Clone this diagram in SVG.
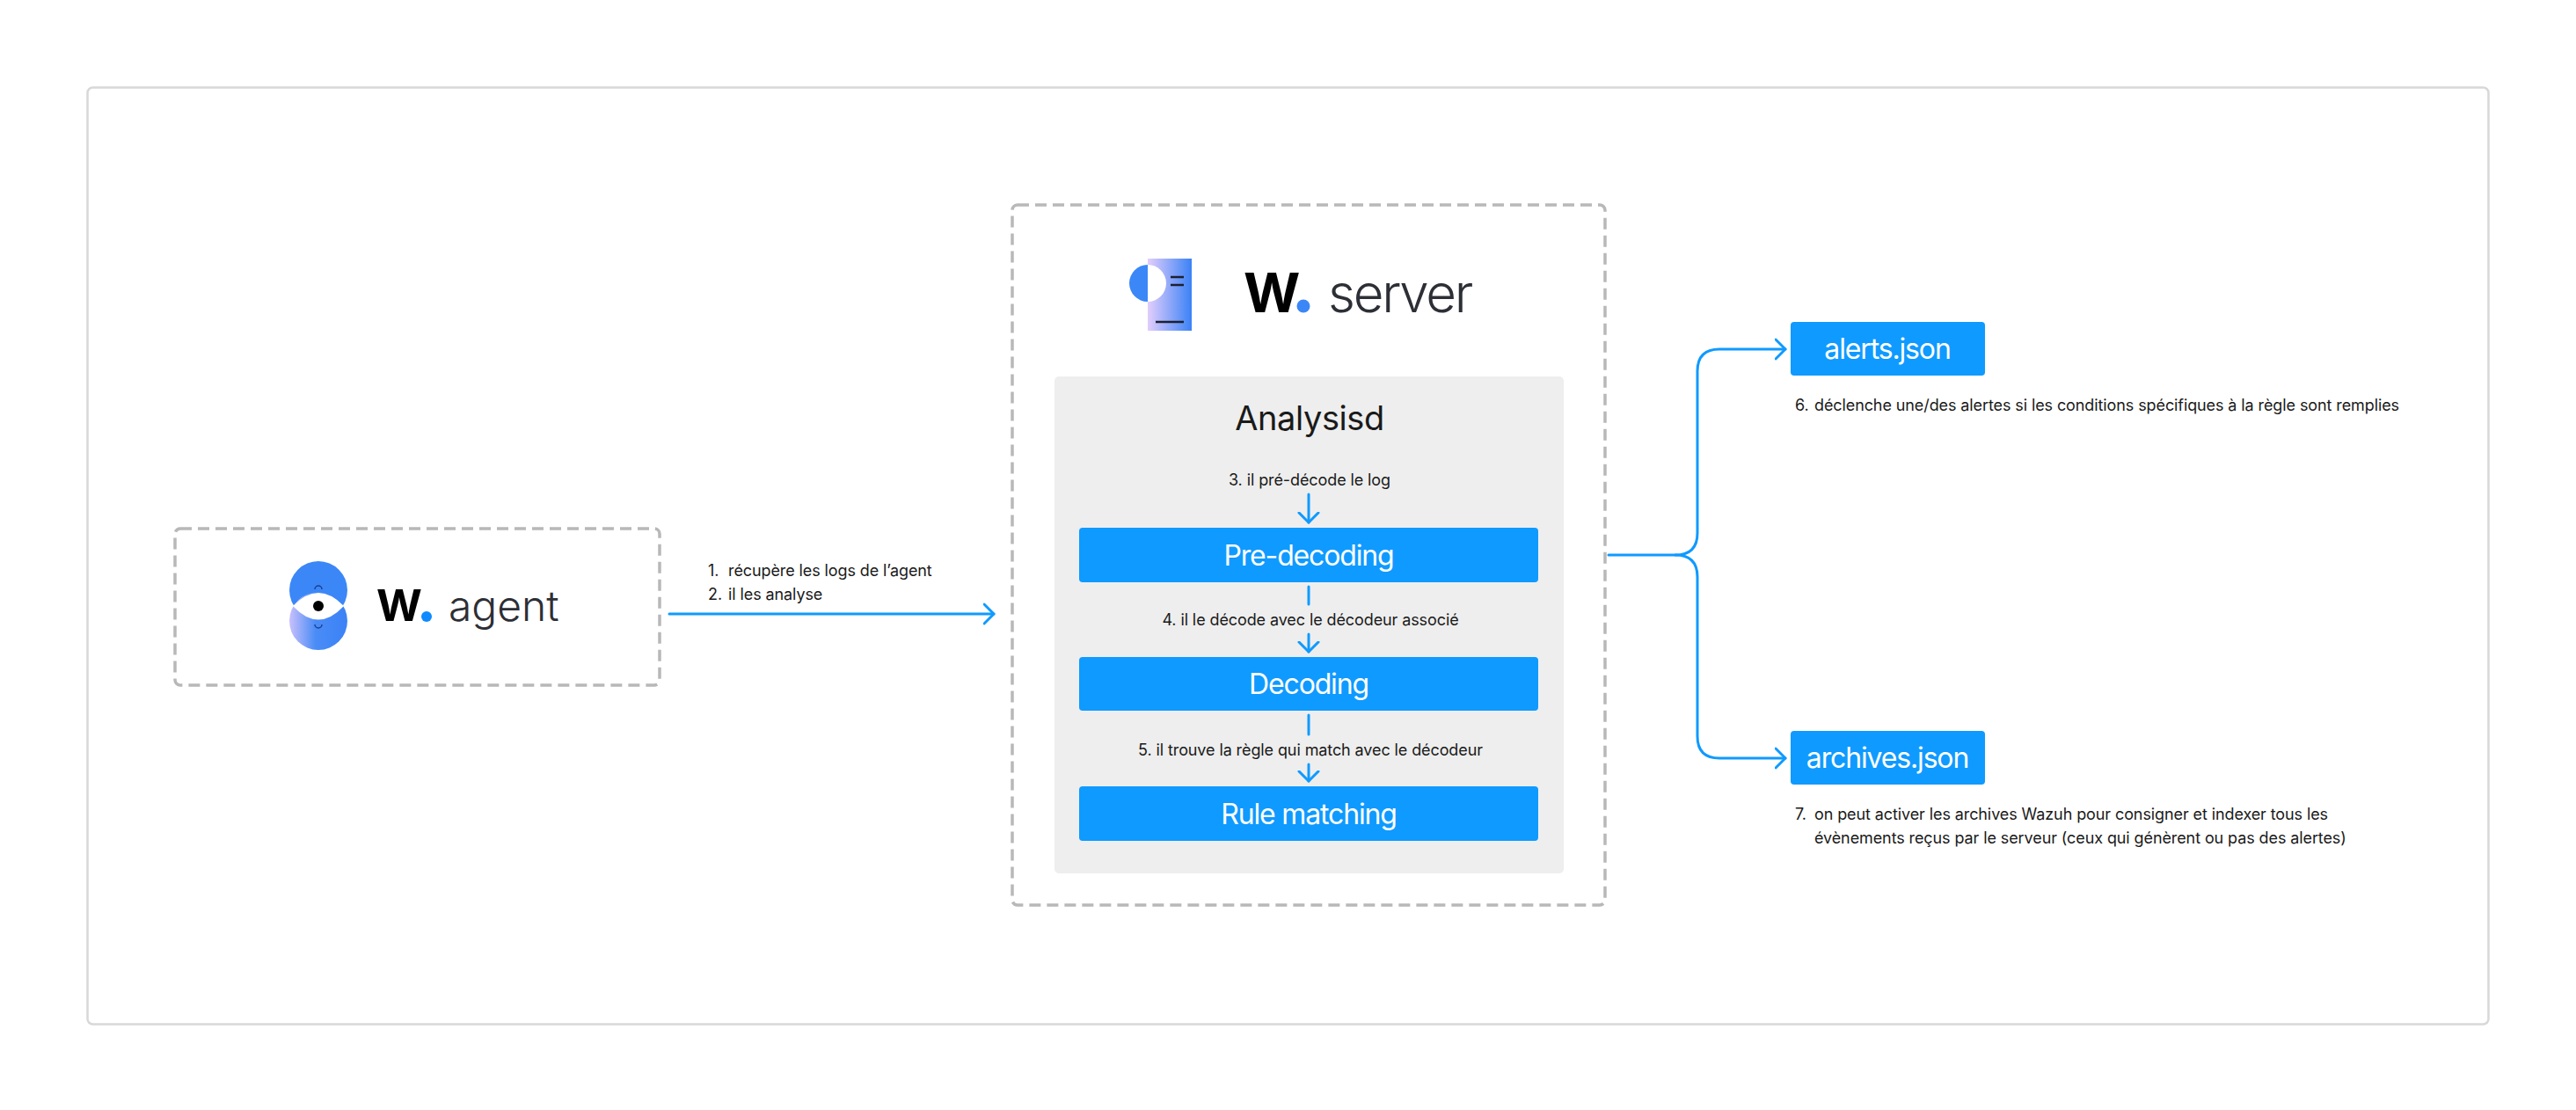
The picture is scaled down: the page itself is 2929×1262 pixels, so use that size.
<svg xmlns="http://www.w3.org/2000/svg" width="2929" height="1262" viewBox="0 0 2929 1262">
<style>
text{font-family:Inter,"Liberation Sans",sans-serif}
.dash{fill:none;stroke:#b8b8b8;stroke-width:3.5;stroke-dasharray:13 7}
.box{fill:#0f9aff}
.bt{fill:#fff;font-size:32px;text-anchor:middle;letter-spacing:-1.15px}
.lb{fill:#1a1a1a;font-size:18px;letter-spacing:-.1px}
.c{text-anchor:middle}
.con{fill:none;stroke:#0f9aff;stroke-width:3;stroke-linecap:round;stroke-linejoin:round}
.w{font-weight:700;fill:#000}
.l{font-weight:300;fill:#2d2f36}
.ink{stroke:#1c2130;stroke-width:2.5}
</style>
<defs>
<linearGradient id="g1" x1="0" x2="1" y1="0" y2="0"><stop offset="0" stop-color="#e2cefc"/><stop offset="1" stop-color="#3b82f6"/></linearGradient>
<linearGradient id="g2" x1="0" x2="1" y1="0" y2="0"><stop offset="0" stop-color="#c9c0fb"/><stop offset=".45" stop-color="#4a8cf7"/><stop offset="1" stop-color="#3b82f6"/></linearGradient>
<marker id="ah" markerUnits="userSpaceOnUse" markerWidth="24" markerHeight="28" refX="12" refY="13" orient="auto"><path d="M1 2 12 13 1 24" fill="none" stroke="#0f9aff" stroke-width="3" stroke-linecap="round" stroke-linejoin="round"/></marker>
</defs>
<rect width="2929" height="1262" fill="#fff"/>
<rect id="frame" x="99.500" y="99.500" width="2730" height="1065" rx="6" fill="#fff" stroke="#d8d8d8" stroke-width="2.500"/>
<g id="agent">
<rect class="dash" x="199" y="601" width="551" height="178" rx="6"/>
<circle cx="362" cy="671" r="33" fill="#3b87f7"/>
<circle cx="362" cy="706" r="33" fill="url(#g2)"/>
<path d="M333 689Q362 659 391 689Q362 720 333 689Z" fill="#fff"/>
<circle cx="362" cy="689" r="6" fill="#000"/>
<path d="M358 670a4 4 0 0 1 8 0M358 710a4 4 0 0 0 8 0" fill="none" stroke="#1c3f8f" stroke-width="1.500"/>
<text class="w" x="428" y="706" font-size="50">W</text>
<circle cx="485" cy="701" r="6" fill="#0f8aff"/>
<text class="l" x="510" y="706" font-size="48">agent</text>
</g>
<g id="server">
<rect class="dash" x="1151" y="233" width="674" height="796" rx="6"/>
<rect x="1305" y="294" width="50" height="82" fill="url(#g1)"/>
<path d="M1305 301a21 21 0 0 0 0 42Z" fill="#3b87f7"/>
<path d="M1305 301a21 21 0 0 1 0 42Z" fill="#fff"/>
<path class="ink" d="M1331 315h15M1331 324h15M1314 366h32"/>
<text class="w" x="1414" y="355" font-size="62">W</text>
<circle cx="1482" cy="348" r="7.500" fill="#3b87f7"/>
<text class="l" x="1510" y="355" font-size="60" letter-spacing="-2.300">server</text>
</g>
<g id="analysisd">
<rect x="1199" y="428" width="579" height="565" rx="5" fill="#eee"/>
<text x="1489" y="489" font-size="38" class="c" fill="#1a1a1a" letter-spacing="-.4">Analysisd</text>
<text class="lb c" x="1489" y="552">3. il pré-décode le log</text>
<text class="lb c" x="1490" y="711">4. il le décode avec le décodeur associé</text>
<text class="lb c" x="1490" y="859">5. il trouve la règle qui match avec le décodeur</text>
</g>
<g id="predecoding"><rect class="box" x="1227" y="600" width="522" height="62" rx="4"/><text class="bt" x="1488" y="643">Pre-decoding</text></g>
<g id="decoding"><rect class="box" x="1227" y="747" width="522" height="61" rx="4"/><text class="bt" x="1488" y="789">Decoding</text></g>
<g id="rule-matching"><rect class="box" x="1227" y="894" width="522" height="62" rx="4"/><text class="bt" x="1488" y="937">Rule matching</text></g>
<g id="alerts"><rect class="box" x="2036" y="366" width="221" height="61" rx="4"/><text class="bt" x="2146" y="408">alerts.json</text></g>
<g id="archives"><rect class="box" x="2036" y="831" width="221" height="61" rx="4"/><text class="bt" x="2146" y="873">archives.json</text></g>
<g id="labels">
<text class="lb" x="805" y="655">1.</text><text class="lb" x="828" y="655">récupère les logs de l’agent</text>
<text class="lb" x="805" y="682">2.</text><text class="lb" x="828" y="682">il les analyse</text>
<text class="lb" x="2041" y="467">6.</text><text class="lb" x="2063" y="467">déclenche une/des alertes si les conditions spécifiques à la règle sont remplies</text>
<text class="lb" x="2041" y="932">7.</text><text class="lb" x="2063" y="932">on peut activer les archives Wazuh pour consigner et indexer tous les</text>
<text class="lb" x="2063" y="959">évènements reçus par le serveur (ceux qui génèrent ou pas des alertes)</text>
</g>
<g id="connectors">
<path class="con" d="M761 698H1130" marker-end="url(#ah)"/>
<path class="con" d="M1488 562V594" marker-end="url(#ah)"/>
<path class="con" d="M1488 667V687"/>
<path class="con" d="M1488 721V741" marker-end="url(#ah)"/>
<path class="con" d="M1488 813V835"/>
<path class="con" d="M1488 869V888" marker-end="url(#ah)"/>
<path class="con" d="M1829 631H1905Q1930 631 1930 606V422Q1930 397 1955 397H2030" marker-end="url(#ah)"/>
<path class="con" d="M1905 631Q1930 631 1930 656V837Q1930 862 1955 862H2030" marker-end="url(#ah)"/>
</g>
</svg>
